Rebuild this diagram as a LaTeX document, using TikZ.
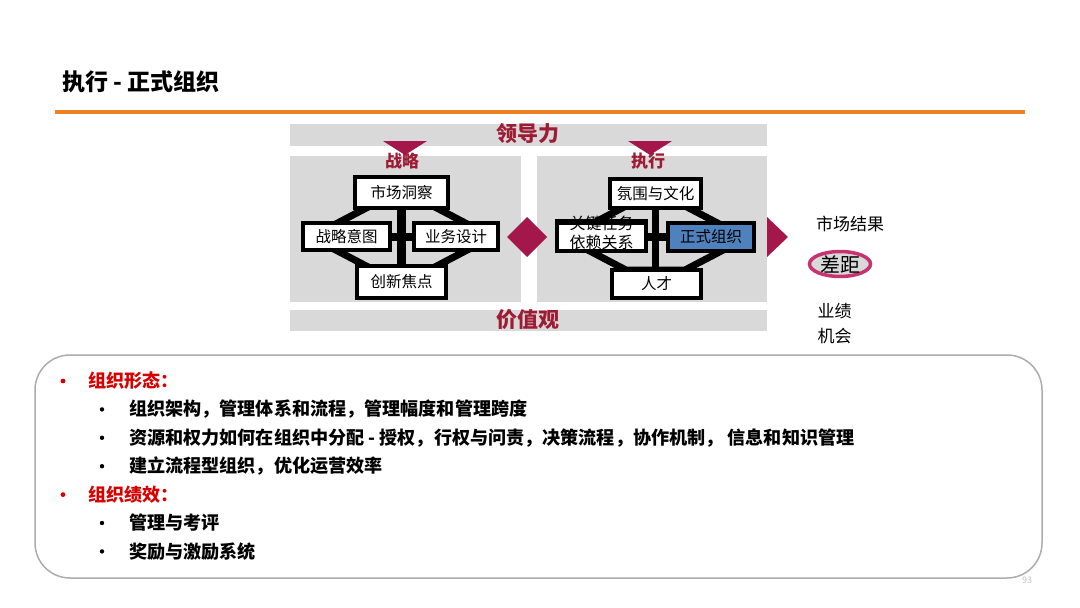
\documentclass[tikz,border=0pt]{standalone}
\usepackage{fontspec}
\setmainfont{Noto Sans CJK SC}
\usetikzlibrary{shapes.geometric}
\definecolor{crimson}{HTML}{A3174B}
\definecolor{darkred}{HTML}{9E1B34}
\definecolor{bandgray}{HTML}{D9D9D9}
\definecolor{orangeline}{HTML}{F07E22}
\definecolor{boxblue}{HTML}{4F81BD}
\definecolor{bulletred}{HTML}{D90000}
\definecolor{gapring}{HTML}{C8326E}
\tikzset{
  blk/.style={draw=black,line width=4pt,fill=white,inner sep=0pt,font=\fontsize{15.5}{15.5}\selectfont},
  bar/.style={line width=8pt},
  octa/.style={line width=7pt,line join=miter},
  bandtext/.style={darkred,inner sep=0pt,font=\fontsize{21}{21}\selectfont\bfseries},
  phase/.style={darkred,inner sep=0pt,font=\fontsize{17}{17}\selectfont\bfseries},
  side/.style={inner sep=0pt,font=\fontsize{17}{17}\selectfont},
  item/.style={anchor=west,inner sep=0pt,font=\fontsize{18.1}{18.1}\selectfont\bfseries},
}
\begin{document}
\begin{tikzpicture}[x=1pt,y=-1pt]
        \useasboundingbox (0,0) rectangle (1080,608);
        \node[anchor=west,inner sep=0pt,font=\fontsize{23}{23}\selectfont\bfseries] (title) at (62,82) {执行 - 正式组织};
        \draw[orangeline,line width=4pt] (55,112) -- (1025,112);
        % bands and panels
        \fill[bandgray] (290,124) rectangle (767,146);
        \fill[bandgray] (290,310) rectangle (767,331);
        \fill[bandgray] (290,156) rectangle (521,302);
        \fill[bandgray] (537,156) rectangle (767,302);
        \node[bandtext] (lead) at (528,134) {领导力};
        \node[bandtext] (value) at (528,320) {价值观};
        \fill[crimson] (383,141) -- (427,141) -- (405,155) -- cycle;
        \fill[crimson] (628,141) -- (672,141) -- (650,155) -- cycle;
        \fill[crimson] (507,237) -- (527,217) -- (547,237) -- (527,257) -- cycle;
        \fill[crimson] (767,217) -- (788,237) -- (767,257) -- cycle;
        \node[phase] (strat) at (402,161) {战略};
        \node[phase] (exec) at (648,161) {执行};
        % strategy
        \draw[octa] (372,205) -- (431,205) -- (473,227) -- (473,247) -- (431,269) -- (372,269) -- (330,247) -- (330,227) -- cycle;
        \node[blk,minimum width=93,minimum height=31] (mkt) at (401.5,192.5) {市场洞察};
        \node[blk,minimum width=87,minimum height=27] (intent) at (346.5,236.5) {战略意图};
        \node[blk,minimum width=84,minimum height=27] (design) at (456,236.5) {业务设计};
        \node[blk,minimum width=89,minimum height=32] (innov) at (401.5,282) {创新焦点};
        \draw[bar,line width=9pt] (mkt.south) -- (innov.north);
        \draw[bar] (intent.east) -- (design.west);
        % execution
        \begin{scope}[shift={(254,1)}]
        \draw[octa] (372,205) -- (431,205) -- (473,227) -- (473,247) -- (431,269) -- (372,269) -- (330,247) -- (330,227) -- cycle;
        \end{scope}
        \node[blk,minimum width=91,minimum height=29] (climate) at (655.5,193.5) {氛围与文化};
        \node[blk,minimum width=89,minimum height=28] (dep) at (601.5,237) {};
        \node[inner sep=0pt,align=center,font=\fontsize{16}{19.5}\selectfont] (deptext) at (601.5,233) {关键任务\\依赖关系};
        \draw[line width=4pt] (dep.north west) -- (dep.north east);
        \node[blk,fill=boxblue,minimum width=86,minimum height=28] (formal) at (711,237) {正式组织};
        \node[blk,minimum width=89,minimum height=28] (talent) at (656.5,284) {人才};
        \draw[bar,line width=7pt] (climate.south) -- (climate.south |- talent.north);
        \draw[bar] (dep.east) -- (formal.west);
        % results
        \node[side] (market) at (850,224) {市场结果};
        \node[ellipse,draw=gapring,line width=3.5pt,fill=bandgray,minimum width=61,minimum height=21,inner sep=0pt,font=\fontsize{20}{20}\selectfont] (gap) at (840,264) {差距};
        \node[side] (perf) at (834.5,311) {业绩};
        \node[side] (chance) at (834.5,336) {机会};
        % notes
        \draw[gray!65,line width=1.5pt,rounded corners=35] (35,355) rectangle (1042,578);
        \fill[bulletred] (63,381) circle (2.4);
        \node[item,bulletred] (form) at (88,381) {组织形态：};
        \foreach \y/\t in {409.4/组织架构，管理体系和流程，管理幅度和管理跨度,
                           437.8/资源和权力如何在组织中分配 - 授权，行权与问责，决策流程，协作机制， 信息和知识管理,
                           466.2/建立流程型组织，优化运营效率,
                           523/管理与考评,
                           551.4/奖励与激励系统}{
          \fill (102,\y) circle (2.2);
          \node[item] at (129,\y) {\t};
        }
        \fill[bulletred] (63,494.6) circle (2.4);
        \node[item,bulletred] (result) at (88,494.6) {组织绩效：};
        \node[gray!50,inner sep=0pt,font=\fontsize{9}{9}\selectfont] (page) at (1027,580) {93};
\end{tikzpicture}
\end{document}
